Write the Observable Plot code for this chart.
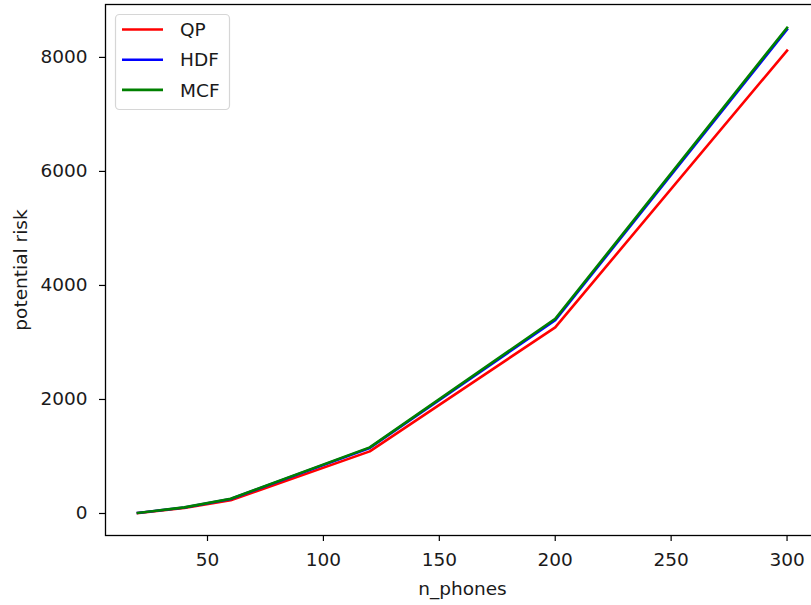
<!DOCTYPE html>
<html>
<head>
<meta charset="utf-8">
<script src="https://cdn.jsdelivr.net/npm/d3@7"></script>
<script src="https://cdn.jsdelivr.net/npm/@observablehq/plot@0.6"></script>
<style>
  html, body { margin: 0; padding: 0; background: #fff; }
  #chart svg { display: block; }
</style>
</head>
<body>
<div id="chart"></div>
<script>
const nPhones = [20, 40, 60, 120, 200, 300];
const qp  = [8, 95, 232, 1090, 3265, 8120];
const hdf = [10, 104, 255, 1150, 3390, 8490];
const mcf = [10, 107, 260, 1160, 3415, 8520];
const seriesNames = ["QP", "HDF", "MCF"];
const seriesColors = ["red", "blue", "green"];
const xTicks = [50, 100, 150, 200, 250, 300];
const yTicks = [0, 2000, 4000, 6000, 8000];

const allSeries = [qp, hdf, mcf];
const data = [];
allSeries.forEach((vals, si) => {
  vals.forEach((v, i) => data.push({series: seriesNames[si], x: nPhones[i], y: v}));
});

const font = "'DejaVu Sans', sans-serif";
const fs = 18.5;

const plot = Plot.plot({
  width: 811,
  height: 605,
  marginLeft: 105,
  marginRight: -8,
  marginTop: 4,
  marginBottom: 70,
  style: {fontFamily: font, fontSize: fs + "px", color: "#1a1a1a", background: "white", overflow: "visible"},
  x: {domain: [6, 314]},
  y: {domain: [-386, 8928]},
  color: {domain: seriesNames, range: seriesColors},
  marks: [
    Plot.axisX({ticks: xTicks, tickFormat: d3.format("d"), tickSize: 6, tickPadding: 11, label: null, stroke: "black", strokeWidth: 1.2}),
    Plot.axisY({ticks: yTicks, tickFormat: d3.format("d"), tickSize: 6, tickPadding: 12, label: null, stroke: "black", strokeWidth: 1.2}),
    Plot.line(data, {x: "x", y: "y", z: "series", stroke: "series", strokeWidth: 2.6, strokeLinejoin: "round", strokeLinecap: "square"}),
    Plot.frame({stroke: "black", strokeWidth: 1.3}),
    Plot.text(["n_phones"], {text: d => d, frameAnchor: "bottom", dy: 59, fontSize: fs}),
    Plot.text(["potential risk"], {text: d => d, frameAnchor: "left", textAnchor: "middle", dx: -84, rotate: -90, fontSize: fs})
  ]
});

document.getElementById("chart").appendChild(plot);

// legend (matplotlib-like, upper left inside the axes)
const svg = d3.select(plot);
const lg = svg.append("g").attr("font-family", font).attr("font-size", fs).attr("text-anchor", "start");
lg.append("rect")
  .attr("x", 115.5).attr("y", 14.5).attr("width", 114).attr("height", 95)
  .attr("rx", 4).attr("ry", 4)
  .attr("fill", "white").attr("fill-opacity", 0.8)
  .attr("stroke", "#d6d6d6").attr("stroke-width", 1.2);
seriesNames.forEach((name, i) => {
  const yy = 29.5 + i * 30.2;
  lg.append("line").attr("x1", 122).attr("x2", 163).attr("y1", yy).attr("y2", yy)
    .attr("stroke", seriesColors[i]).attr("stroke-width", 2.6);
  lg.append("text").attr("x", 180).attr("y", yy).attr("dy", "0.36em")
    .attr("fill", "#1a1a1a").attr("text-anchor", "start").text(name);
});
</script>
</body>
</html>
